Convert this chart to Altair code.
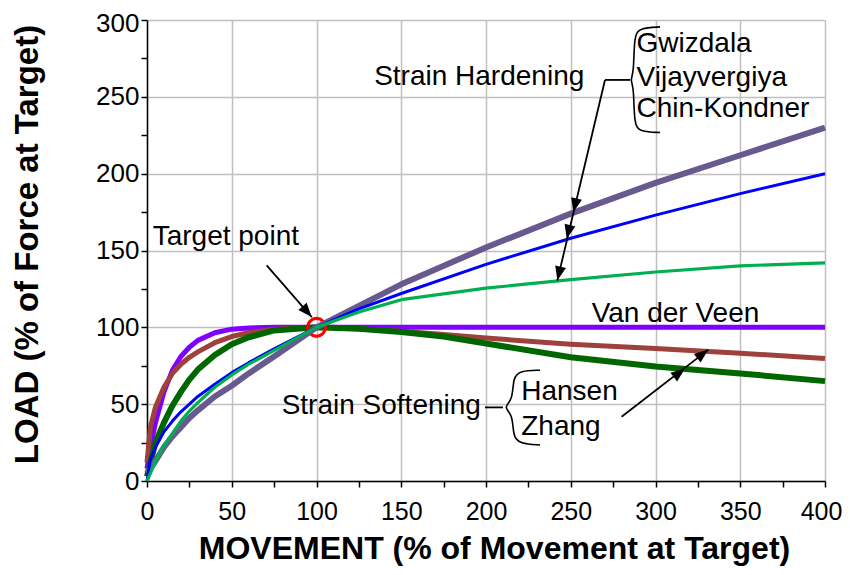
import math
import altair as alt
import pandas as pd

W, H = 678, 461
X_MAX, Y_MAX = 400, 300
FONT = "Liberation Sans"

# ---------------- curve data (movement %, load %) ----------------
vdv_x = [0, 2, 5, 10, 15, 20, 25, 30, 40, 50, 60, 75, 100, 150, 200, 250, 300, 350, 400]
vdv_y = [8, 22, 38, 58, 72, 81, 87, 91.5, 96.5, 98.8, 99.6, 100, 100, 100, 100, 100, 100, 100, 100]

hansen_x = [0, 2, 5, 10, 15, 20, 25, 30, 40, 50, 60, 75, 100, 125, 150, 175, 200, 250, 300, 350, 400]
hansen_y = [12, 35, 48, 61, 70, 76, 80.5, 84, 90, 94, 96.5, 98.8, 100, 99, 97.5, 95.3, 93, 89, 86.2, 83.2, 79.7]

zhang_x = [0, 5, 10, 15, 20, 25, 30, 40, 50, 60, 75, 100, 125, 150, 175, 200, 250, 300, 350, 400]
zhang_y = [3, 25, 38, 49, 58, 66, 72.5, 82, 89, 93.5, 98, 100, 99, 97, 94, 89.5, 80.5, 74.5, 70, 65]

gwiz_x = [0, 5, 10, 15, 20, 25, 30, 40, 50, 60, 75, 100, 150, 200, 250, 300, 350, 400]
gwiz_y = [5, 13, 22, 29, 35, 41, 46, 55, 62, 70, 81, 100, 128, 152, 174, 194, 212, 230]

vija_x = [0, 2, 5, 10, 15, 20, 25, 30, 40, 50, 60, 75, 100, 125, 150, 200, 250, 300, 350, 400]
vija_y = [0, 14, 22, 32, 39, 45, 50, 55, 63, 70.5, 77, 86, 100, 112, 122, 141, 158, 173, 187, 200]

chin_x = [0, 2, 5, 10, 15, 20, 25, 30, 40, 50, 60, 75, 100, 125, 150, 200, 250, 300, 350, 400]
chin_y = [0, 5, 13, 23, 31, 39, 45.5, 51, 61, 69, 76, 85, 100, 110, 118, 125.5, 131, 136, 140, 142]

target_x = [100]
target_y = [100]

x_ticks = list(range(0, 401, 25))
y_ticks = list(range(0, 301, 25))

# ---------------- annotation data ----------------
labels_center = ["Target point", "Strain Hardening", "Van der Veen"]
labels_center_x = [46.5, 196, 311.8]
labels_center_y = [158.6, 263, 108.9]

labels_left = ["Gwizdala", "Vijayvergiya", "Chin-Kondner", "Hansen", "Zhang"]
labels_left_x = [288.8, 288.8, 288.8, 220.8, 220.8]
labels_left_y = [284.2, 262.1, 242.0, 58.0, 35.3]

labels_right = ["Strain Softening"]
labels_right_x = [197.0]
labels_right_y = [48.5]

# brace outlines
hard_brace_x = [302.7, 290.9, 287.3, 287.3, 285.0, 287.3, 287.3, 290.9, 302.7]
hard_brace_y = [295.5, 294.8, 290.3, 265.6, 261.0, 256.5, 231.8, 227.3, 226.8]
soft_brace_x = [231.9, 220.1, 215.9, 215.9, 210.0, 215.9, 215.9, 220.1, 231.9]
soft_brace_y = [72.1, 71.8, 67.5, 52.6, 47.9, 43.5, 28.6, 24.4, 23.4]

# straight leader lines: x, y, x2, y2
lead_x = [270.2, 270.2, 199.4, 280.0, 70.6]
lead_y = [261.0, 261.0, 47.9, 41.8, 140.3]
lead_x2 = [285.0, 242.1, 210.0, 331.2, 97.2]
lead_y2 = [261.0, 130.5, 47.9, 85.5, 106.7]

# arrow tips and the start of the line they sit on
tip_x = [251.5, 247.6, 242.1, 317.4, 331.2, 97.2]
tip_y = [174.9, 157.6, 130.5, 73.2, 85.5, 106.7]
tail_x = [270.2, 270.2, 270.2, 280.0, 280.0, 70.6]
tail_y = [261.0, 261.0, 261.0, 41.8, 41.8, 140.3]

# ---------------- scales / axes ----------------
xscale = alt.Scale(domain=[0, X_MAX], nice=False, zero=False)
yscale = alt.Scale(domain=[0, Y_MAX], nice=False, zero=False)

common_axis = dict(
    grid=True, gridColor="#BFBFBF", gridWidth=1.5,
    gridOpacity={"condition": {"test": "datum.value % 50 === 0", "value": 1}, "value": 0},
    labelExpr="datum.value % 50 === 0 ? datum.label : ''",
    domainColor="black", domainWidth=1.5,
    tickColor="black", tickWidth=1.5, tickSize=6,
    labelFont=FONT, labelColor="black",
    labelFlush=False, labelOverlap=False,
    titleFont=FONT, titleFontWeight="bold", titleColor="black",
)
x_axis = alt.Axis(values=x_ticks, labelPadding=12, labelFontSize=25,
                  labelOffset={"condition": {"test": "datum.value === 400", "value": -4}, "value": 0},
                  titleFontSize=32, titleX=347, titleY=67,
                  titleBaseline="middle", titleAlign="center", **common_axis)
y_axis = alt.Axis(values=y_ticks, labelPadding=2, labelFontSize=26,
                  labelOffset={"condition": {"test": "datum.value === 300", "value": 3}, "value": 0},
                  titleFontSize=33, titleX=-120, titleY=224,
                  titleBaseline="middle", titleAlign="center", **common_axis)

XT = "MOVEMENT (% of Movement at Target)"
YT = "LOAD (% of Force at Target)"


def X(f="x"):
    return alt.X(f, type="quantitative", scale=xscale, axis=x_axis, title=XT)


def Y(f="y"):
    return alt.Y(f, type="quantitative", scale=yscale, axis=y_axis, title=YT)


layers = []

curves_below = [
    (vdv_x, vdv_y, "#7F00FF", 5),
    (hansen_x, hansen_y, "#9E403C", 5),
    (zhang_x, zhang_y, "#006600", 6),
]
curves_above = [
    (gwiz_x, gwiz_y, "#685A8E", 6),
    (vija_x, vija_y, "#0000FF", 3),
    (chin_x, chin_y, "#00B050", 3.2),
]


def curve_layer(xs, ys, col, sw):
    df = pd.DataFrame({"x": xs, "y": ys})
    return (alt.Chart(df)
            .mark_line(color=col, strokeWidth=sw, strokeJoin="round", strokeCap="butt")
            .encode(x=X(), y=Y()))


for c in curves_below:
    layers.append(curve_layer(*c))

# target marker
layers.append(
    alt.Chart(pd.DataFrame({"x": target_x, "y": target_y}))
    .mark_point(shape="circle", filled=False, size=320, strokeWidth=3.2, color="#FF0000", opacity=1)
    .encode(x=X(), y=Y())
)

for c in curves_above:
    layers.append(curve_layer(*c))

# leader lines
lead_df = pd.DataFrame({"x": lead_x, "y": lead_y, "x2": lead_x2, "y2": lead_y2})
layers.append(
    alt.Chart(lead_df).mark_rule(color="black", strokeWidth=1.8)
    .encode(x=X(), y=Y(), x2="x2", y2="y2")
)

# braces
for bx, by in [(hard_brace_x, hard_brace_y), (soft_brace_x, soft_brace_y)]:
    bdf = pd.DataFrame({"x": bx, "y": by, "o": list(range(len(bx)))})
    layers.append(
        alt.Chart(bdf).mark_line(color="black", strokeWidth=1.6, interpolate="basis")
        .encode(x=X(), y=Y(), order="o:Q")
    )

# arrow heads
px_x = W / X_MAX
px_y = H / Y_MAX
angles = []
for tx, ty, sx, sy in zip(tip_x, tip_y, tail_x, tail_y):
    dx = (tx - sx) * px_x
    dy = -(ty - sy) * px_y
    angles.append(math.degrees(math.atan2(dx, -dy)) % 360)
head_df = pd.DataFrame({"x": tip_x, "y": tip_y, "a": angles})
layers.append(
    alt.Chart(head_df)
    .mark_point(shape="M0,0L0.45,1.15L-0.45,1.15Z", filled=True, size=600, color="black", opacity=1, strokeWidth=0)
    .encode(x=X(), y=Y(), angle=alt.Angle("a:Q", scale=None))
)

# text
for txt, xs, ys, al in [
    (labels_center, labels_center_x, labels_center_y, "center"),
    (labels_left, labels_left_x, labels_left_y, "left"),
    (labels_right, labels_right_x, labels_right_y, "right"),
]:
    tdf = pd.DataFrame({"x": xs, "y": ys, "t": txt})
    layers.append(
        alt.Chart(tdf)
        .mark_text(font=FONT, fontSize=28, color="black", align=al, baseline="middle")
        .encode(x=X(), y=Y(), text="t:N")
    )

chart = (
    alt.layer(*layers)
    .properties(
        width=W, height=H,
        autosize=alt.AutoSizeParams(type="none"),
        padding={"left": 139, "top": 12, "right": 17, "bottom": 86},
        background="white",
    )
    .configure_view(strokeWidth=0)
)

chart.save("out.html", embed_options={"renderer": "svg", "actions": False})
